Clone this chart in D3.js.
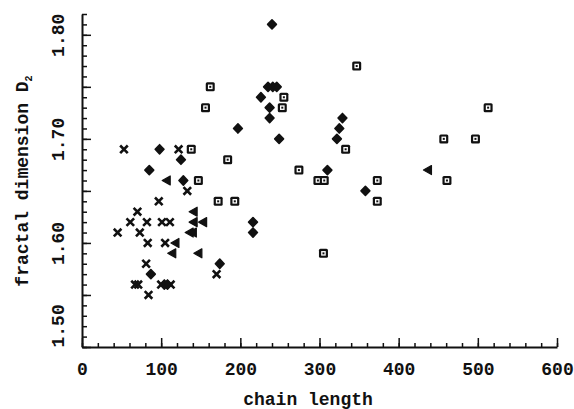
<!DOCTYPE html>
<html>
<head>
<meta charset="utf-8">
<script src="https://cdn.jsdelivr.net/npm/d3@7"></script>
<style>
  body { margin: 0; background: #fff; }
  text { font-family: "Liberation Mono", "DejaVu Sans Mono", monospace; fill: #111; font-weight: bold; }
</style>
</head>
<body>
<script>
// chain length, fractal dimension D2
const crosses = [
    [53, 1.69], [122, 1.69], [133, 1.65], [97, 1.64], [70, 1.63], [61, 1.62], [82, 1.62],
    [101, 1.62], [111, 1.62], [45, 1.61], [73, 1.61], [83, 1.60], [105, 1.60], [81, 1.58],
    [170, 1.57], [67, 1.56], [71, 1.56], [84, 1.55], [100, 1.56], [112, 1.56]
];
const diamonds = [
    [240, 1.81], [235, 1.75], [241, 1.75], [246, 1.75], [226, 1.74], [237, 1.73], [237, 1.72],
    [329, 1.72], [197, 1.71], [325, 1.71], [249, 1.70], [322, 1.70], [98, 1.69], [125, 1.68],
    [85, 1.67], [310, 1.67], [128, 1.66], [358, 1.65], [216, 1.62], [216, 1.61], [174, 1.58],
    [87, 1.57], [104, 1.56], [108, 1.56]
];
const squares = [
    [347, 1.77], [162, 1.75], [255, 1.74], [156, 1.73], [253, 1.73], [513, 1.73], [457, 1.70],
    [497, 1.70], [138, 1.69], [333, 1.69], [184, 1.68], [274, 1.67], [147, 1.66], [298, 1.66],
    [306, 1.66], [373, 1.66], [461, 1.66], [172, 1.64], [193, 1.64], [373, 1.64], [305, 1.59]
];
const triangles = [
    [107, 1.66], [437, 1.67], [141, 1.63], [141, 1.62], [153, 1.62], [136, 1.61], [140, 1.61],
    [118, 1.60], [114, 1.59], [147, 1.59]
];

const xTicks = [0, 100, 200, 300, 400, 500, 600];
const yTicks = [1.50, 1.60, 1.70, 1.80];

let width = 574, height = 409;
let margin = { left: 82, right: 17, top: 14, bottom: 62 };

let svg = d3.select("body").append("svg")
    .attr("width", width)
    .attr("height", height);

let x = d3.scaleLinear().domain([0, 600]).range([margin.left, width - margin.right]);
let y = d3.scaleLinear().domain([1.5, 1.82]).range([height - margin.bottom, margin.top]);

// minor ticks
svg.append("g")
    .attr("transform", "translate(0," + y(1.5) + ")")
    .call(d3.axisBottom(x).tickValues(d3.range(0, 601, 20)).tickSize(-4).tickFormat(""))
    .call(g => g.select(".domain").remove());
svg.append("g")
    .attr("transform", "translate(" + x(0) + ",0)")
    .call(d3.axisLeft(y).tickValues(d3.range(150, 183, 1).map(d => d / 100)).tickSize(-5).tickFormat(""))
    .call(g => g.select(".domain").remove());

// major ticks + labels
let xAxis = svg.append("g")
    .attr("transform", "translate(0," + y(1.5) + ")")
    .call(d3.axisBottom(x).tickValues(xTicks).tickSizeInner(-9).tickSizeOuter(0).tickPadding(15).tickFormat(d3.format("d")));
xAxis.selectAll("text").attr("font-size", 18).attr("font-family", "Liberation Mono");

let yAxis = svg.append("g")
    .attr("transform", "translate(" + x(0) + ",0)")
    .call(d3.axisLeft(y).tickValues(d3.range(150, 181, 5).map(d => d / 100)).tickSizeInner(-9).tickSizeOuter(0).tickFormat(""));
yAxis.selectAll(".tick").each(function (d) {
    let k = Math.round(d * 100);
    if (yTicks.every(t => Math.round(t * 100) != k)) return;
    d3.select(this).append("text")
        .attr("transform", "translate(-24,0) rotate(-90)")
        .attr("text-anchor", k == 150 ? "start" : "middle")
        .attr("dy", "0.35em")
        .attr("font-size", 18)
        .text(d3.format(".2f")(d));
});

svg.selectAll(".domain").attr("stroke-width", 2).attr("stroke", "#111");
svg.selectAll(".tick line").attr("stroke-width", 1.5).attr("stroke", "#111");

// axis titles
svg.append("text")
    .attr("x", 308)
    .attr("y", 405)
    .attr("text-anchor", "middle")
    .attr("font-size", 18)
    .text("chain length");

let ylab = svg.append("text")
    .attr("transform", "translate(28," + 181 + ") rotate(-90)")
    .attr("text-anchor", "middle")
    .attr("font-size", 18);
ylab.append("tspan").text("fractal dimension D");
ylab.append("tspan").attr("font-size", 10).attr("dy", 4).text("2");

// markers
let marks = svg.append("g");

marks.selectAll(".cross")
    .data(crosses)
    .enter().append("path")
    .attr("class", "cross")
    .attr("transform", d => "translate(" + x(d[0]) + "," + y(d[1]) + ")")
    .attr("d", "M-3.8,-3.8L3.8,3.8M-3.8,3.8L3.8,-3.8")
    .attr("stroke", "#111")
    .attr("stroke-width", 2.6)
    .attr("fill", "none");

marks.selectAll(".diamond")
    .data(diamonds)
    .enter().append("path")
    .attr("class", "diamond")
    .attr("transform", d => "translate(" + x(d[0]) + "," + y(d[1]) + ")")
    .attr("d", "M0,-4.6L4.4,0L0,4.6L-4.4,0Z")
    .attr("fill", "#111")
    .attr("stroke", "#111")
    .attr("stroke-width", 1.6)
    .attr("stroke-linejoin", "round");

let sq = marks.selectAll(".square")
    .data(squares)
    .enter().append("g")
    .attr("class", "square")
    .attr("transform", d => "translate(" + x(d[0]) + "," + y(d[1]) + ")");
sq.append("rect").attr("x", -4.5).attr("y", -4.5).attr("width", 9).attr("height", 9)
    .attr("rx", 1.5).attr("fill", "#111");
sq.append("rect").attr("x", -2.3).attr("y", -2.3).attr("width", 4.6).attr("height", 4.6)
    .attr("fill", "#fff");
sq.append("rect").attr("x", -1).attr("y", -1).attr("width", 2).attr("height", 2)
    .attr("fill", "#111");

marks.selectAll(".tri")
    .data(triangles)
    .enter().append("path")
    .attr("class", "tri")
    .attr("transform", d => "translate(" + x(d[0]) + "," + y(d[1]) + ")")
    .attr("d", "M-4.5,0L3.5,-4.5L3.5,4.5Z")
    .attr("fill", "#111")
    .attr("stroke", "#111")
    .attr("stroke-width", 1.2)
    .attr("stroke-linejoin", "round");
</script>
</body>
</html>
